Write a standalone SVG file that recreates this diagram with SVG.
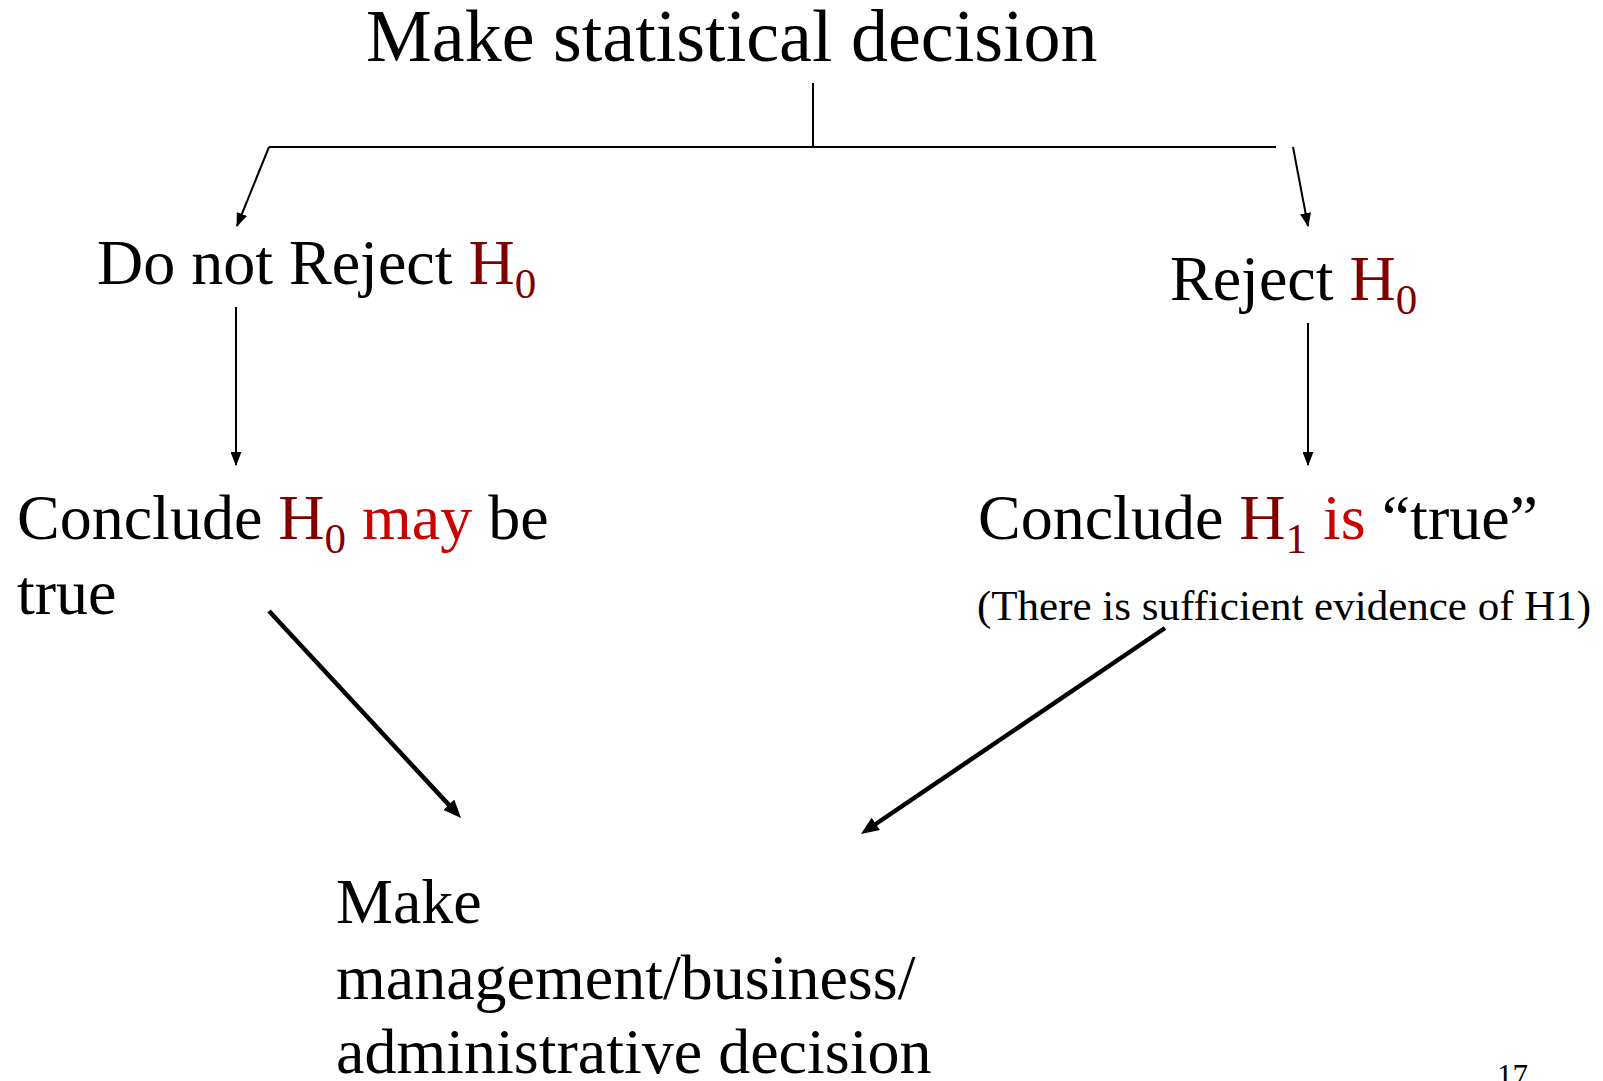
<svg xmlns="http://www.w3.org/2000/svg" width="1603" height="1081" viewBox="0 0 1603 1081">
<style>
text{font-family:"Liberation Serif","Times New Roman",serif;fill:#000}
.t{font-size:64px}
.dr{fill:#800000}
.r{fill:#cc0000}
.thin{stroke:#000;stroke-width:2;fill:none}
.thick{stroke:#000;stroke-width:4.5;fill:none}
</style>
<defs>
<marker id="ah" markerUnits="userSpaceOnUse" viewBox="0 0 14 11" refX="13" refY="5.5" markerWidth="14" markerHeight="11" orient="auto"><path d="M0,0 L14,5.5 L0,11 z" fill="#000"/></marker>
<marker id="ahb" markerUnits="userSpaceOnUse" viewBox="0 0 18 15" refX="10" refY="7.5" markerWidth="18" markerHeight="15" orient="auto"><path d="M0,0 L18,7.5 L0,15 z" fill="#000"/></marker>
</defs>
<rect width="1603" height="1081" fill="#fff"/>
<g id="connectors">
<polyline class="thin" points="813,83 813,147"/>
<polyline class="thin" points="269,147 1276,147"/>
<line class="thin" x1="269" y1="147" x2="237" y2="226" marker-end="url(#ah)"/>
<line class="thin" x1="1293" y1="147" x2="1308" y2="226" marker-end="url(#ah)"/>
<line class="thin" x1="236" y1="307" x2="236" y2="465" marker-end="url(#ah)"/>
<line class="thin" x1="1308" y1="323" x2="1308" y2="465" marker-end="url(#ah)"/>
<line class="thick" x1="269" y1="611" x2="455.6" y2="812.1" marker-end="url(#ahb)"/>
<line class="thick" x1="1165" y1="628" x2="867.6" y2="829.5" marker-end="url(#ahb)"/>
</g>
<g id="title"><text x="366" y="61" font-size="74">Make statistical decision</text></g>
<g id="do-not-reject"><text class="t" x="97" y="284">Do not Reject <tspan class="dr">H</tspan><tspan class="dr" font-size="43" dy="14">0</tspan></text></g>
<g id="reject"><text class="t" x="1170" y="300">Reject <tspan class="dr">H</tspan><tspan class="dr" font-size="43" dy="14">0</tspan></text></g>
<g id="conclude-h0"><text class="t" x="17" y="539">Conclude <tspan class="dr">H</tspan><tspan class="dr" font-size="43" dy="14">0</tspan><tspan dy="-14"> </tspan><tspan class="r">may</tspan> be</text>
<text class="t" x="17" y="614">true</text></g>
<g id="conclude-h1"><text class="t" x="978" y="539">Conclude <tspan class="dr">H</tspan><tspan class="dr" font-size="43" dy="14">1</tspan><tspan dy="-14"> </tspan><tspan class="r">is</tspan> “true”</text>
<text x="977" y="620" font-size="43">(There is sufficient evidence of H1)</text></g>
<g id="business-decision"><text class="t" x="336" y="923">Make</text>
<text class="t" x="336" y="999">management/business/</text>
<text class="t" x="336" y="1073">administrative decision</text></g>
<g id="page-number"><text x="1497" y="1086" font-size="31">17</text></g>
</svg>
